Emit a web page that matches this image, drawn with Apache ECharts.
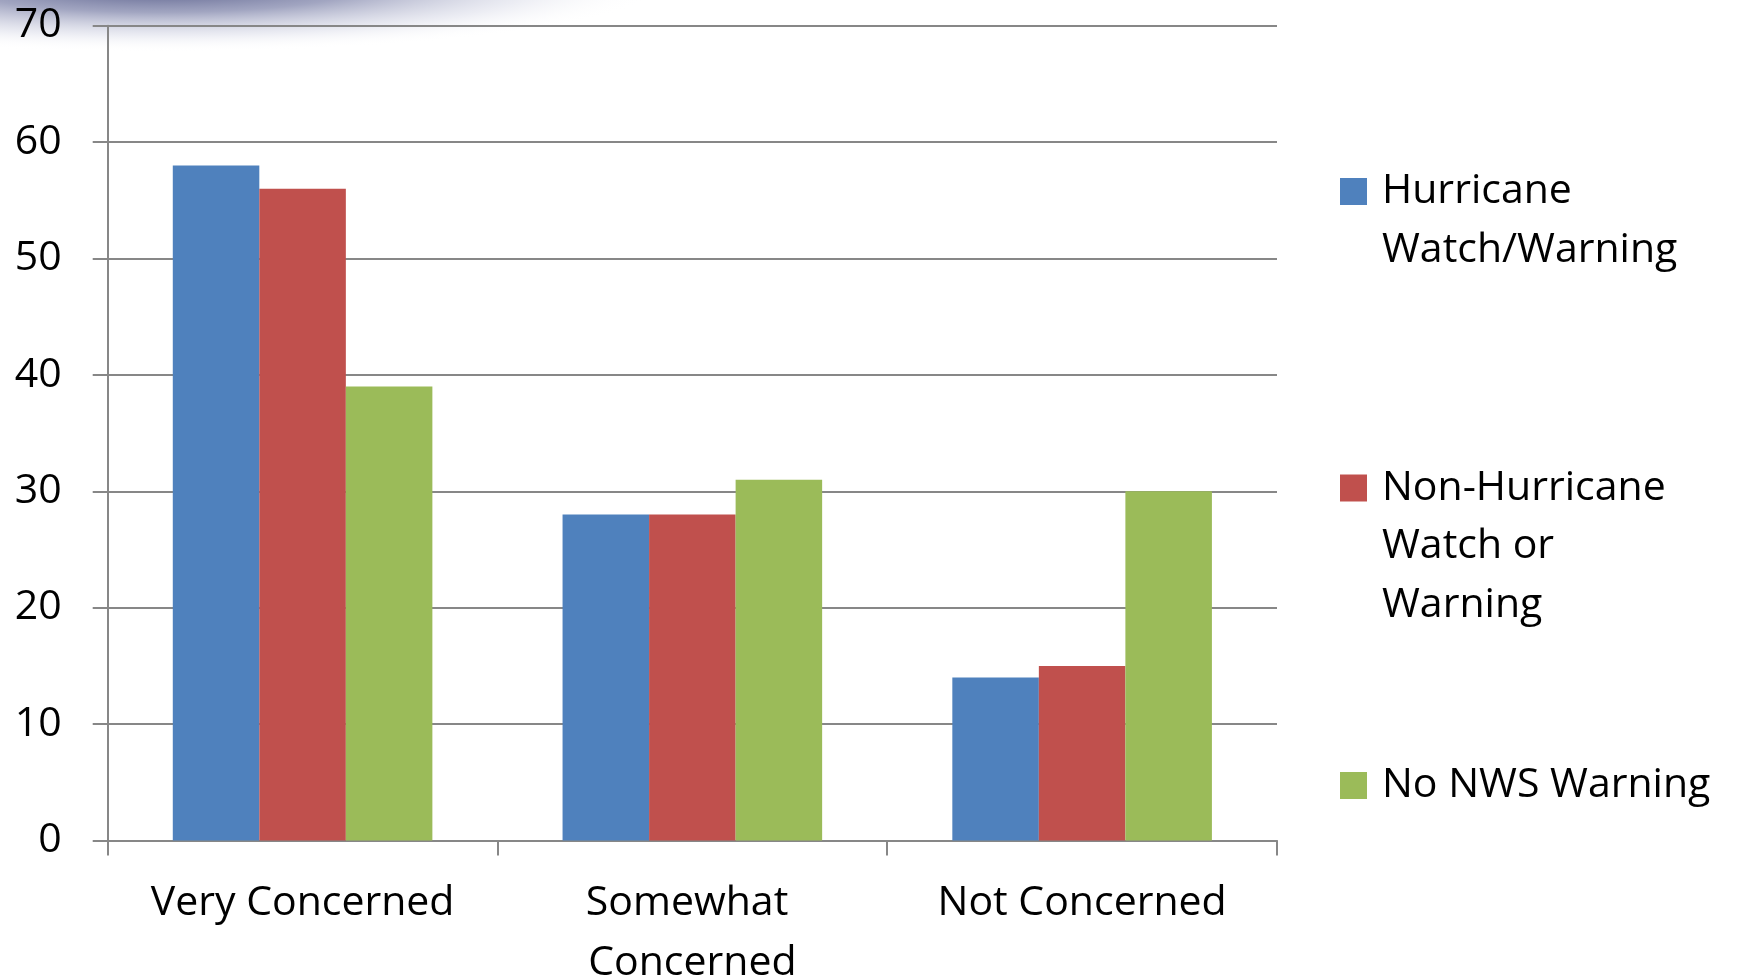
<!DOCTYPE html>
<html>
<head>
<meta charset="utf-8">
<title>Level of concern by warning type</title>
<script src="https://cdn.jsdelivr.net/npm/echarts@6/dist/echarts.min.js"></script>
<style>
  html, body { margin: 0; padding: 0; background: #fff; }
  #chart { width: 1738px; height: 978px; }
</style>
</head>
<body>
<div id="chart"></div>
<script>
// Survey answers, grouped by concern level
const categories = ['Very Concerned', 'Somewhat Concerned', 'Not Concerned'];
const seriesNames = ['Hurricane Watch/Warning', 'Non-Hurricane Watch or Warning', 'No NWS Warning'];
const hurricaneWatchWarning = [58, 28, 14];
const nonHurricaneWatchWarning = [56, 28, 15];
const noNwsWarning = [39, 31, 30];
const yTicks = { min: 0, max: 70, step: 10 };

// How each legend entry wraps
const legendLines = {
  'Hurricane Watch/Warning': ['Hurricane', 'Watch/Warning'],
  'Non-Hurricane Watch or Warning': ['Non-Hurricane', 'Watch or', 'Warning'],
  'No NWS Warning': ['No NWS Warning']
};

const colors = ['#4F81BD', '#C0504D', '#9BBB59'];
const FONT = 'Open Sans';
const FS = 41;
const LH = 58.5;
const axisGray = '#878787';

const chart = echarts.init(document.getElementById('chart'), null, { renderer: 'canvas' });

// One legend block per series. The legend centres its text on the swatch,
// so blank lines are put above the text to keep the swatch on the first line.
const legendCenters = [191.5, 488, 785.5];
const legends = seriesNames.map((name, i) => {
  const n = legendLines[name].length;
  return {
    data: [name],
    orient: 'vertical',
    left: 1340,
    top: legendCenters[i] - (2 * n - 1) * LH / 2,
    padding: 0,
    itemWidth: 27,
    itemHeight: 27,
    icon: 'rect',
    selectedMode: false,
    formatter: (nm) => {
      const lines = legendLines[nm];
      return '\n'.repeat(lines.length - 1) + lines.join('\n');
    },
    textStyle: {
      fontFamily: FONT,
      fontSize: FS,
      lineHeight: LH,
      color: '#000',
      padding: [0, 0, 0, 10]
    }
  };
});

const seriesData = [hurricaneWatchWarning, nonHurricaneWatchWarning, noNwsWarning];

chart.setOption({
  backgroundColor: '#fff',
  animation: false,
  textStyle: { fontFamily: FONT },
  graphic: [{
    type: 'rect',
    z: -10,
    silent: true,
    shape: { x: -100, y: -100, width: 200, height: 200 },
    x: 160, y: -14,
    scaleX: 5.0, scaleY: 0.66,
    style: {
      fill: {
        type: 'radial', x: 0.5, y: 0.5, r: 0.5,
        colorStops: [
          { offset: 0, color: 'rgba(80,86,132,1)' },
          { offset: 0.4, color: 'rgba(130,135,172,0.75)' },
          { offset: 0.75, color: 'rgba(200,203,222,0.35)' },
          { offset: 1, color: 'rgba(255,255,255,0)' }
        ]
      }
    }
  }],
  legend: legends,
  grid: {
    left: 107.7, right: 461, top: 25.7, bottom: 137.5,
    containLabel: false,
    outerBoundsMode: 'none'
  },
  xAxis: {
    type: 'category',
    data: categories,
    boundaryGap: true,
    axisLine: { show: true, lineStyle: { color: axisGray, width: 2 } },
    axisTick: { show: true, length: 15, lineStyle: { color: axisGray, width: 2 } },
    axisLabel: {
      interval: 0,
      margin: 33,
      color: '#000',
      fontFamily: FONT,
      fontSize: FS,
      lineHeight: 60,
      width: 360,
      overflow: 'break'
    },
    splitLine: { show: false }
  },
  yAxis: {
    type: 'value',
    min: yTicks.min,
    max: yTicks.max,
    interval: yTicks.step,
    axisLine: { show: true, lineStyle: { color: axisGray, width: 2 } },
    axisTick: { show: true, length: 15, lineStyle: { color: axisGray, width: 2 } },
    axisLabel: {
      margin: 46,
      color: '#000',
      fontFamily: FONT,
      fontSize: FS
    },
    splitLine: { show: true, lineStyle: { color: axisGray, width: 2 } }
  },
  series: seriesNames.map((name, i) => ({
    name: name,
    type: 'bar',
    data: seriesData[i],
    barGap: '0%',
    barCategoryGap: '33.4%',
    itemStyle: { color: colors[i] },
    emphasis: { disabled: true }
  }))
});
</script>
</body>
</html>
